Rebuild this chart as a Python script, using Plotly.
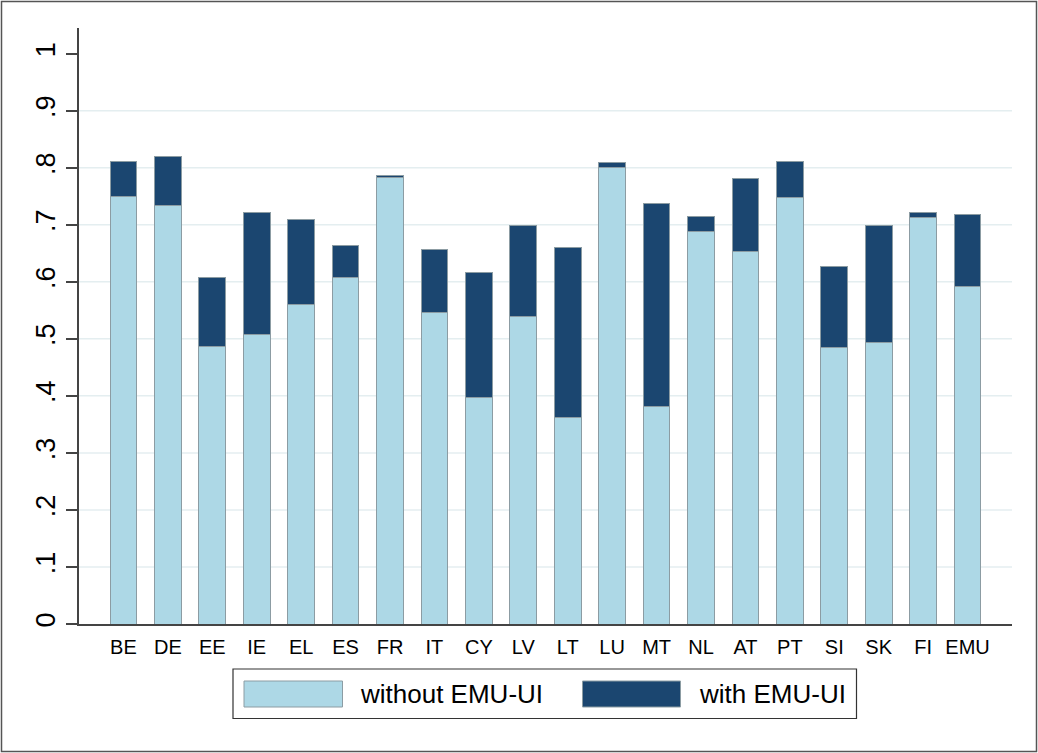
import plotly.graph_objects as go

# ---- data ----
countries = ["BE", "DE", "EE", "IE", "EL", "ES", "FR", "IT", "CY", "LV",
             "LT", "LU", "MT", "NL", "AT", "PT", "SI", "SK", "FI", "EMU"]
without_ui = [0.749, 0.733, 0.486, 0.507, 0.560, 0.607, 0.783, 0.546, 0.397, 0.539,
              0.362, 0.801, 0.382, 0.689, 0.653, 0.748, 0.485, 0.493, 0.712, 0.592]
with_ui = [0.811, 0.819, 0.608, 0.722, 0.710, 0.663, 0.786, 0.657, 0.616, 0.699,
           0.660, 0.810, 0.738, 0.715, 0.782, 0.811, 0.626, 0.698, 0.721, 0.718]
series_names = ["without EMU-UI", "with EMU-UI"]
series_colors = ["#add8e6", "#1b4670"]
y_ticks = [0, 0.1, 0.2, 0.3, 0.4, 0.5, 0.6, 0.7, 0.8, 0.9, 1]
y_ticklabels = ["0", ".1", ".2", ".3", ".4", ".5", ".6", ".7", ".8", ".9", "1"]
grid_vals = [0.1, 0.2, 0.3, 0.4, 0.5, 0.6, 0.7, 0.8, 0.9]

increment = [w - b for w, b in zip(with_ui, without_ui)]

W, H = 1038, 753
ML, MR, MT, MB = 79, 26, 28, 129
PW = W - ML - MR
PH = H - MT - MB


def px_x(px):
    return (px - ML) / PW


def px_y(py):
    return (H - MB - py) / PH


FONT = "Liberation Sans, Arial, sans-serif"
outline = dict(color="#8c9ca3", width=1)

fig = go.Figure()
fig.add_trace(go.Bar(x=countries, y=without_ui, name=series_names[0],
                     marker=dict(color=series_colors[0], line=outline),
                     width=0.6, showlegend=False))
fig.add_trace(go.Bar(x=countries, y=increment, name=series_names[1],
                     marker=dict(color=series_colors[1], line=outline),
                     width=0.6, showlegend=False))

shapes = []
for g in grid_vals:
    shapes.append(dict(type="line", xref="paper", yref="y", x0=0, x1=1, y0=g, y1=g,
                       line=dict(color="#e4eef0", width=1.5), layer="below"))

# outer frame
shapes.append(dict(type="rect", xref="paper", yref="paper",
                   x0=px_x(1.5), x1=px_x(1036.5), y0=px_y(751.5), y1=px_y(1.5),
                   line=dict(color="#555555", width=1.5), layer="below"))

# legend box
shapes.append(dict(type="rect", xref="paper", yref="paper",
                   x0=px_x(233), x1=px_x(856.5), y0=px_y(718.5), y1=px_y(669),
                   line=dict(color="#333333", width=1.2), fillcolor="white"))
annotations = []
sw_x = [(244, 342.5), (582.5, 680.5)]
txt_x = [358, 696.5]
for i in range(2):
    shapes.append(dict(type="rect", xref="paper", yref="paper",
                       x0=px_x(sw_x[i][0]), x1=px_x(sw_x[i][1]),
                       y0=px_y(707), y1=px_y(681),
                       fillcolor=series_colors[i], line=outline))
    annotations.append(dict(xref="paper", yref="paper", x=px_x(txt_x[i]), y=px_y(694),
                            xanchor="left", yanchor="middle", showarrow=False,
                            text=series_names[i],
                            font=dict(family=FONT, size=26, color="#000000")))

fig.update_layout(
    width=W, height=H,
    margin=dict(l=ML, r=MR, t=MT, b=MB),
    paper_bgcolor="white", plot_bgcolor="white",
    barmode="stack",
    font=dict(family=FONT, color="#000000"),
    shapes=shapes, annotations=annotations,
    showlegend=False,
)
fig.update_xaxes(range=[-1.0, 20.0], showgrid=False, showline=True,
                 linecolor="#444444", linewidth=1.5, ticks="",
                 tickfont=dict(size=20, family=FONT, color="#000000"),
                 ticklabelstandoff=4, zeroline=False)
fig.update_yaxes(range=[0, 1.045], tickvals=y_ticks, ticktext=y_ticklabels,
                 tickangle=-90, showgrid=False, showline=True,
                 linecolor="#444444", linewidth=1.5, ticks="outside", ticklen=11,
                 tickcolor="#444444", tickwidth=1.5,
                 tickfont=dict(size=27, family=FONT, color="#000000"),
                 ticklabelstandoff=0, zeroline=False)

fig.write_html("out.html", config={"displayModeBar": False},
               post_script="document.body.style.margin='0';document.body.style.overflow='hidden';")
